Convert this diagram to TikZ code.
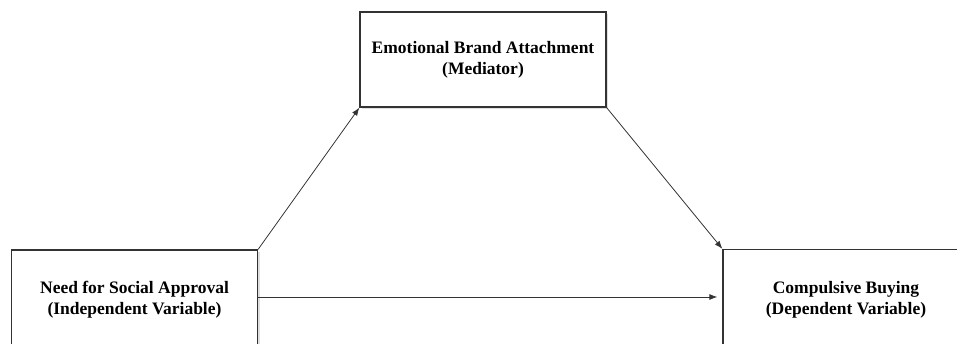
\documentclass[tikz,border=0pt]{standalone}
\usepackage{fontspec}
\setmainfont{Liberation Serif}
\usetikzlibrary{positioning}
\usetikzlibrary{arrows.meta}
\usetikzlibrary{shadows}
\tikzset{
    varbox/.style = {rectangle, draw=black!80, line width=1.3pt, fill=white, align=center,
                     minimum width=246pt, minimum height=100pt, inner sep=0pt,
                     font=\fontsize{17.5}{21}\selectfont\bfseries,
                     drop shadow={shadow xshift=2pt, shadow yshift=-2pt, opacity=0.25}},
    edgen/.style = {-{Latex[length=8pt,width=6pt]}, line width=0.8pt, draw=black!80}
}
\begin{document}
\begin{tikzpicture}[x=1pt,y=1pt]
\useasboundingbox (0,0) rectangle (957,344);
\clip (0,0) rectangle (957,344);
\node[varbox, minimum height=95pt] at (483, 284.5) (eba) {Emotional Brand Attachment\\(Mediator)};
\node[varbox] at (134.5, 44) (nsa) {Need for Social Approval\\(Independent Variable)};
\node[varbox] at (846, 44.5) (cb) {Compulsive Buying\\(Dependent Variable)};
%
\draw[edgen] (nsa.north east) -- (eba.south west);
\draw[edgen] (eba.south east) -- (cb.north west);
\draw[edgen, shorten >=5pt] (nsa.east) ++(0,3) coordinate (h) -- (h -| cb.west);
\end{tikzpicture}
\end{document}
